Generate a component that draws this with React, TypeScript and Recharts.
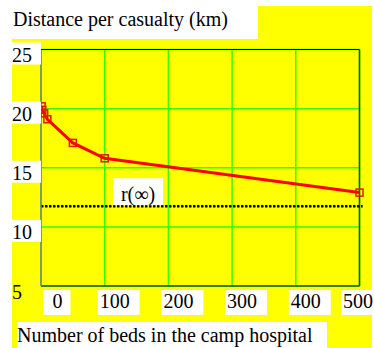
import React from 'react';
import {
  LineChart, Line, XAxis, YAxis, CartesianGrid, ReferenceLine
} from 'recharts';

// beds in the camp hospital vs. distance per casualty (km)
const beds = [1, 2, 5, 10, 50, 100, 500];
const kmPerCasualty = [20.2, 19.9, 19.6, 19.1, 17.1, 15.8, 12.9];
const rInfinity = 11.75;

const xTicks = [0, 100, 200, 300, 400, 500];
const yTicks = [5, 10, 15, 20, 25];

const data = beds.map((b, i) => ({ beds: b, km: kmPerCasualty[i] }));

const FONT = '"Liberation Serif", "Times New Roman", serif';

// left tick labels sit in white boxes, text hanging just below the gridline
const YTick = (props: any) => {
  const { x, y, payload } = props;
  const v = payload.value;
  return (
    <g>
      {v !== 5 && <rect x={x - 29} y={y - 7} width={29} height={22} fill="#fff" />}
      <text x={x - 29} y={y + 12.5} fontSize={20} fontFamily={FONT} fill="#000">{v}</text>
    </g>
  );
};

// bottom tick labels, shifted right of their gridline
const XTick = (props: any) => {
  const { x, y, payload } = props;
  const label = String(payload.value);
  const shift = payload.value === 0 ? 16.5 : payload.value === 500 ? -1.5 : 10;
  const cx = x + shift;
  const half = label.length * 5;
  const left = cx - Math.max(half + 2, 14);
  const right = cx + half + (label.length > 1 ? 10 : 8);
  return (
    <g>
      <rect x={left} y={y + 4} width={right - left} height={25} fill="#fff" />
      <text x={cx} y={y + 22} textAnchor="middle" fontSize={20} fontFamily={FONT} fill="#000">{label}</text>
    </g>
  );
};

const SquareDot = (props: any) => {
  const { cx, cy, index } = props;
  return <rect key={index} x={cx - 3.5} y={cy - 3.5} width={7} height={7} fill="none" stroke="#e01800" strokeWidth={1.5} />;
};

const RLabel = (props: any) => {
  const { viewBox } = props;
  const x0 = viewBox.x + 72;
  const y0 = viewBox.y;
  return (
    <g>
      <rect x={x0} y={y0 - 28} width={50} height={27} fill="#fff" />
      <text x={x0 + 25} y={y0 - 5} textAnchor="middle" fontSize={20} fontFamily={FONT} fill="#000">r(∞)</text>
    </g>
  );
};

export default function App() {
  return (
    <div style={{ position: 'absolute', left: 0, top: 0, width: 374, height: 348, background: '#fff' }}>
      <div style={{ position: 'absolute', left: 12, top: 6, width: 360, height: 342, background: '#ffff00' }} />
      <div style={{
        position: 'absolute', left: 12, top: 6, width: 246, height: 33, background: '#fff',
        fontFamily: FONT, fontSize: 20, lineHeight: '27px', paddingLeft: 1, boxSizing: 'border-box'
      }}>
        Distance per casualty (km)
      </div>
      <div style={{
        position: 'absolute', left: 17, top: 322, width: 310, height: 26, background: '#fff',
        fontFamily: FONT, fontSize: 20, lineHeight: '26px', whiteSpace: 'nowrap'
      }}>
        Number of beds in the camp hospital
      </div>
      <div style={{ position: 'absolute', left: 0, top: 0 }}>
        <LineChart width={374} height={348} data={data}
          margin={{ top: 49.5, right: 14.5, bottom: 0, left: 12 }}>
          <CartesianGrid stroke="#33ff00" strokeWidth={1.5} />
          <XAxis dataKey="beds" type="number" domain={[0, 500]} ticks={xTicks}
            height={62} tickSize={0} tickMargin={0} axisLine={false} tickLine={false}
            tick={<XTick />} interval={0} />
          <YAxis type="number" domain={[5, 25]} ticks={yTicks} width={29}
            tickSize={0} tickMargin={0} tickLine={false}
            axisLine={{ stroke: '#808080', strokeWidth: 1.5 }}
            tick={<YTick />} interval={0} />
          <ReferenceLine y={25} stroke="#000" strokeWidth={1} />
          <ReferenceLine y={5} stroke="#000" strokeWidth={1} />
          <ReferenceLine x={500} stroke="#1f5200" strokeWidth={1.5} />
          <ReferenceLine
            segment={[{ x: 0, y: rInfinity }, { x: 505, y: rInfinity }]}
            ifOverflow="visible" stroke="#000" strokeWidth={2.5} strokeDasharray="2.5 1.5"
            label={<RLabel />} />
          <Line dataKey="km" stroke="#ff0000" strokeWidth={3} isAnimationActive={false}
            dot={<SquareDot />} activeDot={false} />
        </LineChart>
      </div>
    </div>
  );
}
